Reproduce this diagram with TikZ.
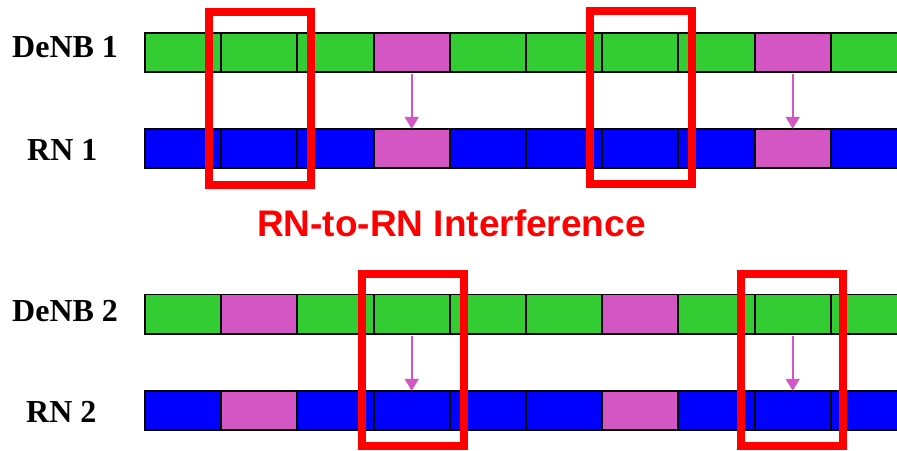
\documentclass[tikz,border=0pt]{standalone}
\usepackage{fontspec}
\setmainfont{Liberation Serif}
\newfontfamily\arialfont{Liberation Sans}
\usetikzlibrary{arrows.meta}
\definecolor{grn}{RGB}{51,204,51}
\definecolor{blu}{RGB}{0,0,255}
\definecolor{mag}{RGB}{212,85,196}
\tikzset{ slot/.style = { rectangle % subframe
        , minimum width = 76.2pt
        , minimum height = 39pt
        , inner sep = 0pt
        }
        , lbl/.style = { anchor = base west % station name
        , inner sep = 0pt
        , font = \fontsize{32}{38}\selectfont\bfseries
        }
        , win/.style = { rectangle % interference window
        , draw = red
        , line width = 8pt
        , inner sep = 0pt
        , minimum width = 102pt
        , minimum height = 173pt
        }
        }

\begin{document}
\begin{tikzpicture}[x=1pt, y=-1pt,
        tx_edge_style/.style={draw=mag, line width=2pt, shorten <=2pt, -{Triangle[length=12pt,width=14pt]}}]
        \useasboundingbox (0,0) rectangle (897,450);
        \clip (0,0) rectangle (897,450);

        \node [lbl](t1) at (12,57) {DeNB 1};
        \node [lbl](t2) at (27,160) {RN 1};
        \node [lbl](t3) at (12,321) {DeNB 2};
        \node [lbl](t4) at (26,422) {RN 2};

        % subframes, magenta = relay backhaul
        \foreach \i [evaluate=\i as \p using {int(100*or(\i==3,\i==8))}] in {0,...,9} {
            \node [slot,fill=mag!\p!grn](a\i) at (183.1+76.2*\i,52.5) {};
            \node [slot,fill=mag!\p!blu](b\i) at (183.1+76.2*\i,148.5) {};
        }
        \foreach \i [evaluate=\i as \p using {int(100*or(\i==1,\i==6))}] in {0,...,9} {
            \node [slot,fill=mag!\p!grn](c\i) at (183.1+76.2*\i,314.2) {};
            \node [slot,fill=mag!\p!blu](d\i) at (183.1+76.2*\i,410.5) {};
        }
        % borders on top of the fills
        \foreach \r in {a,b,c,d}
            \foreach \i in {0,...,9}
                \draw [line width=1.5pt] (\r\i.north west) rectangle (\r\i.south east);

        \draw [tx_edge_style] (a3) -- (b3);
        \draw [tx_edge_style] (a8) -- (b8);
        \draw [tx_edge_style] (c3) -- (d3);
        \draw [tx_edge_style] (c8) -- (d8);

        \node [win](w1) at (260,98) {};
        \node [win](w2) at (640.7,97.5) {};
        \node [win,minimum height=172pt](w3) at (412.5,360) {};
        \node [win,minimum height=172pt](w4) at (792.3,359.5) {};

        \node [text=red,font=\arialfont\fontsize{37}{44}\selectfont\bfseries,anchor=base](msg) at (451.5,236.7) {RN-to-RN Interference};
\end{tikzpicture}
\end{document}
